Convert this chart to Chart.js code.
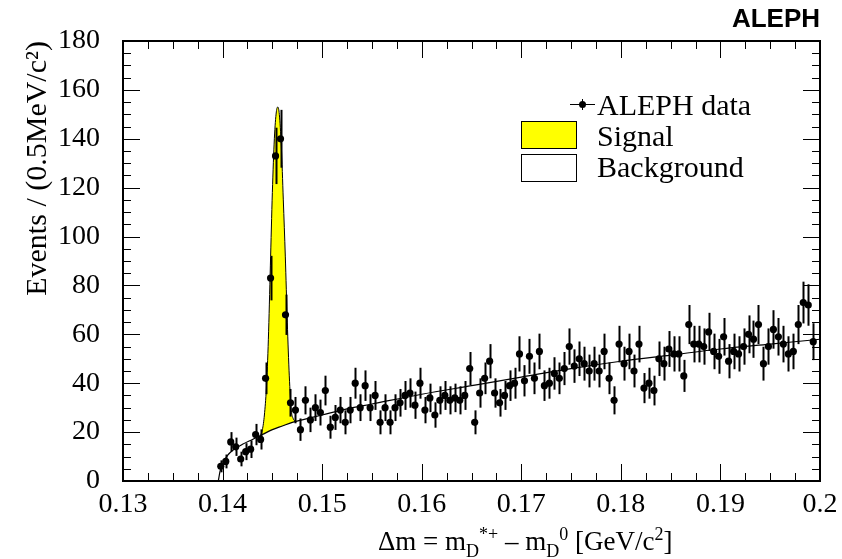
<!DOCTYPE html>
<html>
<head>
<meta charset="utf-8">
<script src="https://cdn.jsdelivr.net/npm/chart.js@4/dist/chart.umd.min.js"></script>
<style>
  html, body { margin: 0; padding: 0; background: #fff; }
</style>
</head>
<body>
<canvas id="canvas" width="842" height="559"></canvas>
<script>
// 0.5 MeV bins starting at the pion mass
var binCentres = [
  0.13982,0.14032,0.14082,0.14132,0.14182,0.14232,0.14282,0.14332,0.14382,0.14432,
  0.14482,0.14532,0.14582,0.14632,0.14682,0.14732,0.14782,0.14832,0.14882,0.14932,
  0.14982,0.15032,0.15082,0.15132,0.15182,0.15232,0.15282,0.15332,0.15382,0.15432,
  0.15482,0.15532,0.15582,0.15632,0.15682,0.15732,0.15782,0.15832,0.15882,0.15932,
  0.15982,0.16032,0.16082,0.16132,0.16182,0.16232,0.16282,0.16332,0.16382,0.16432,
  0.16482,0.16532,0.16582,0.16632,0.16682,0.16732,0.16782,0.16832,0.16882,0.16932,
  0.16982,0.17032,0.17082,0.17132,0.17182,0.17232,0.17282,0.17332,0.17382,0.17432,
  0.17482,0.17532,0.17582,0.17632,0.17682,0.17732,0.17782,0.17832,0.17882,0.17932,
  0.17982,0.18032,0.18082,0.18132,0.18182,0.18232,0.18282,0.18332,0.18382,0.18432,
  0.18482,0.18532,0.18582,0.18632,0.18682,0.18732,0.18782,0.18832,0.18882,0.18932,
  0.18982,0.19032,0.19082,0.19132,0.19182,0.19232,0.19282,0.19332,0.19382,0.19432,
  0.19482,0.19532,0.19582,0.19632,0.19682,0.19732,0.19782,0.19832,0.19882,0.19932
];
var events = [
  6, 8, 16, 14, 9, 12, 13, 19, 17, 42,
  83, 133, 140, 68, 32, 29, 21, 33, 25, 30,
  28, 37, 22, 26, 29, 24, 29, 40, 30, 39,
  30, 35, 24, 30, 24, 30, 32, 35, 36, 31,
  40, 29, 34, 27, 33, 35, 33, 34, 33, 35,
  46, 24, 36, 42, 49, 36, 32, 35, 39, 40,
  52, 41, 51, 42, 53, 39, 40, 44, 42, 46,
  55, 47, 50, 48, 45, 48, 45, 53, 42, 33,
  56, 48, 53, 45, 56, 38, 40, 37, 50, 48,
  54, 52, 52, 43, 64, 56, 56, 55, 61, 53,
  51, 59, 49, 53, 52, 55, 60, 58, 64, 48,
  55, 62, 59, 56, 52, 53, 64, 73, 72, 57
];

// background fit
var bkgX = [0.13957,0.13975,0.1400,0.1405,0.1410,0.1420,0.1430,0.1440,0.1450,0.1460,0.1470,0.1480,
            0.1500,0.1525,0.1550,0.1600,0.1650,0.1700,0.1750,0.1800,0.1850,0.1900,0.1950,0.2000];
var bkgY = [0,4,7,10.5,12.5,15,17,19,21,22.5,24,25,
            27,29.5,31.5,35.5,39,42.5,46,49,51.5,54,56,58];

// signal + background around the peak
var sigX     = [0.1438,0.1440,0.1442,0.1444,0.1446,0.1448,0.1450,0.1452,0.1454,0.14555,
                0.1457,0.1459,0.1461,0.1463,0.1465,0.1467,0.1469,0.1471,0.1473];
var sigTotal = [18.6,21,27,38,58,88,118,140,151,153,
                150,137,115,92,65,43,29,25.5,24.4];
var sigBkg   = [18.6,19,19.4,19.8,20.2,20.6,21,21.3,21.6,21.8,
                22,22.3,22.6,22.9,23.2,23.5,23.8,24.1,24.4];

var xTicks = [0.13,0.14,0.15,0.16,0.17,0.18,0.19,0.2];
var yTicks = [0,20,40,60,80,100,120,140,160,180];
var legendLabels = ["ALEPH data","Signal","Background"];
var yTitle = "Events / (0.5MeV/c\u00B2)";
var xTitleParts = [["\u0394m = m",0],["D",1],["*+",-1],[" \u2013 m",0],["D",1],["0",-1],[" [GeV/c",0],["2",-1],["]",0]];

var serif = "'Liberation Serif', 'Times New Roman', serif";

function pts(xs, ys) {
  return ys.map(function(v, i){ return {x: xs[i], y: v}; });
}

// Poisson error bars under the data markers
var errorBars = {
  id: 'errorBars',
  beforeDatasetDraw: function(chart, args) {
    if (args.index !== 0) return;
    var ctx = chart.ctx, sx = chart.scales.x, sy = chart.scales.y, a = chart.chartArea;
    ctx.save();
    ctx.beginPath();
    ctx.rect(a.left, a.top, a.right - a.left, a.bottom - a.top);
    ctx.clip();
    ctx.strokeStyle = '#000';
    ctx.lineWidth = 2;
    events.forEach(function(v, i){
      var e = Math.sqrt(v);
      var px = Math.round(sx.getPixelForValue(binCentres[i])) + 0.5;
      ctx.beginPath();
      ctx.moveTo(px, sy.getPixelForValue(v - e));
      ctx.lineTo(px, sy.getPixelForValue(v + e));
      ctx.stroke();
    });
    ctx.restore();
  }
};

// ROOT-like frame with inward ticks, legend and x title
var decor = {
  id: 'decor',
  afterDraw: function(chart) {
    var ctx = chart.ctx, a = chart.chartArea, sx = chart.scales.x, sy = chart.scales.y;
    ctx.save();
    ctx.strokeStyle = '#000';
    ctx.lineWidth = 1;
    var i, j, p, v;
    ctx.beginPath();
    for (i = 0; i < xTicks.length; i++) {
      p = Math.round(sx.getPixelForValue(xTicks[i])) + 0.5;
      ctx.moveTo(p, a.bottom); ctx.lineTo(p, a.bottom - 17);
      ctx.moveTo(p, a.top); ctx.lineTo(p, a.top + 17);
      if (i < xTicks.length - 1) {
        for (j = 1; j < 4; j++) {
          v = xTicks[i] + (xTicks[i + 1] - xTicks[i]) * j / 4;
          p = Math.round(sx.getPixelForValue(v)) + 0.5;
          ctx.moveTo(p, a.bottom); ctx.lineTo(p, a.bottom - 8);
          ctx.moveTo(p, a.top); ctx.lineTo(p, a.top + 8);
        }
      }
    }
    for (i = 0; i < yTicks.length; i++) {
      p = Math.round(sy.getPixelForValue(yTicks[i])) + 0.5;
      ctx.moveTo(a.left, p); ctx.lineTo(a.left + 17, p);
      ctx.moveTo(a.right, p); ctx.lineTo(a.right - 17, p);
      if (i < yTicks.length - 1) {
        for (j = 1; j < 4; j++) {
          v = yTicks[i] + (yTicks[i + 1] - yTicks[i]) * j / 4;
          p = Math.round(sy.getPixelForValue(v)) + 0.5;
          ctx.moveTo(a.left, p); ctx.lineTo(a.left + 8, p);
          ctx.moveTo(a.right, p); ctx.lineTo(a.right - 8, p);
        }
      }
    }
    ctx.stroke();
    ctx.lineWidth = 2;
    ctx.strokeRect(a.left, a.top, a.right - a.left, a.bottom - a.top);

    // legend
    ctx.fillStyle = '#000';
    ctx.lineWidth = 1;
    ctx.beginPath();
    ctx.moveTo(570, 104.5); ctx.lineTo(595, 104.5);
    ctx.moveTo(582.5, 99); ctx.lineTo(582.5, 110);
    ctx.stroke();
    ctx.beginPath(); ctx.arc(582.5, 104.5, 3.5, 0, Math.PI * 2); ctx.fill();
    ctx.fillStyle = '#ffff00';
    ctx.fillRect(521, 121, 55, 27);
    ctx.strokeRect(521.5, 121.5, 55, 27);
    ctx.strokeRect(521.5, 154.5, 55, 27);
    ctx.fillStyle = '#000';
    ctx.font = "30px " + serif;
    ctx.textAlign = 'left';
    ctx.textBaseline = 'alphabetic';
    ctx.fillText(legendLabels[0], 597, 115);
    ctx.fillText(legendLabels[1], 597, 146);
    ctx.fillText(legendLabels[2], 597, 177);

    // x title with sub/superscripts
    var x = 378, base = 550;
    xTitleParts.forEach(function(part){
      var small = part[1] !== 0;
      ctx.font = (small ? 18 : 27) + "px " + serif;
      var dy = part[1] === 1 ? 7 : (part[1] === -1 ? -10 : 0);
      ctx.fillText(part[0], x, base + dy);
      x += ctx.measureText(part[0]).width;
    });
    ctx.restore();
  }
};

window.onload = function(){
  var ctx = document.getElementById("canvas").getContext("2d");
  window.myChart = new Chart(ctx, {
    type: 'line',
    data: {
      datasets: [
        {
          label: legendLabels[0],
          data: pts(binCentres, events),
          showLine: false,
          pointRadius: 3.6,
          pointBorderWidth: 0,
          pointBackgroundColor: '#000',
          borderColor: '#000',
          order: 0
        },
        {
          label: legendLabels[1],
          data: pts(sigX, sigTotal),
          borderColor: '#000',
          borderWidth: 1,
          backgroundColor: '#ffff00',
          fill: {target: 2},
          pointRadius: 0,
          cubicInterpolationMode: 'monotone',
          order: 2
        },
        {
          label: 'signal base',
          data: pts(sigX, sigBkg),
          borderWidth: 0,
          borderColor: 'rgba(0,0,0,0)',
          pointRadius: 0,
          cubicInterpolationMode: 'monotone',
          order: 3
        },
        {
          label: legendLabels[2],
          data: pts(bkgX, bkgY),
          borderColor: '#000',
          borderWidth: 1.2,
          pointRadius: 0,
          fill: false,
          cubicInterpolationMode: 'monotone',
          order: 1
        }
      ]
    },
    options: {
      responsive: false,
      devicePixelRatio: 1,
      animation: false,
      layout: { padding: { left: 0, right: 22, top: 0, bottom: 0 } },
      plugins: {
        legend: { display: false },
        tooltip: { enabled: false },
        title: {
          display: true,
          text: 'ALEPH',
          align: 'end',
          color: '#000',
          font: { family: "'Liberation Sans', Arial, sans-serif", size: 26, weight: 'bold' },
          padding: { top: 4, bottom: 5.8 }
        }
      },
      scales: {
        x: {
          type: 'linear',
          min: 0.13,
          max: 0.2,
          afterBuildTicks: function(s){ s.ticks = xTicks.map(function(v){ return {value: v}; }); },
          afterFit: function(s){ s.height = 78; s.paddingLeft = 0; s.paddingRight = 0; },
          grid: { display: false, drawTicks: false },
          border: { display: false },
          ticks: {
            autoSkip: false, maxRotation: 0, padding: 7, color: '#000',
            font: { family: serif, size: 28 },
            callback: function(v){ return String(Math.round(v * 100) / 100); }
          }
        },
        y: {
          min: 0,
          max: 180,
          afterBuildTicks: function(s){ s.ticks = yTicks.map(function(v){ return {value: v}; }); },
          afterFit: function(s){ s.width = 123; s.paddingTop = 0; s.paddingBottom = 0; },
          grid: { display: false, drawTicks: false },
          border: { display: false },
          ticks: { padding: 23, color: '#000', font: { family: serif, size: 28 } },
          title: {
            display: true, text: yTitle, align: 'end', color: '#000',
            font: { family: serif, size: 30 }, padding: { top: 20, bottom: 0 }
          }
        }
      }
    },
    plugins: [errorBars, decor]
  });
};
</script>
</body>
</html>
